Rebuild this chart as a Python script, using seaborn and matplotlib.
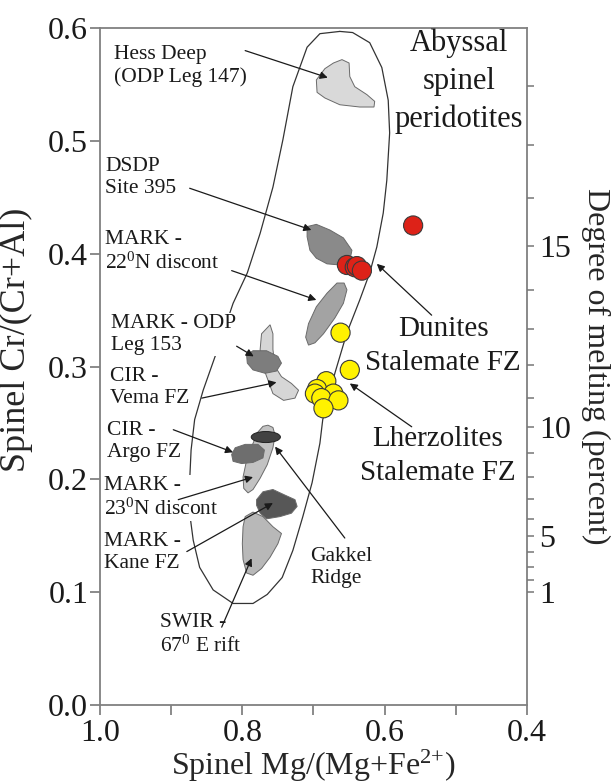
import numpy as np
import pandas as pd
import matplotlib
matplotlib.use('Agg')
import matplotlib.pyplot as plt
from matplotlib.patches import Ellipse
from matplotlib.ticker import FixedLocator, FixedFormatter
import seaborn as sns

# Stalemate FZ samples: spinel Mg# and Cr#
dunite_mg = [0.560, 0.653, 0.642, 0.639, 0.632]
dunite_cr = [0.425, 0.390, 0.388, 0.389, 0.385]
lherz_mg = [0.662, 0.649, 0.682, 0.695, 0.672, 0.698, 0.689, 0.665, 0.686]
lherz_cr = [0.330, 0.297, 0.287, 0.280, 0.276, 0.276, 0.272, 0.270, 0.263]

# outline of the abyssal spinel peridotite array (Mg#, Cr#)
abyssal_mg = [0.663, 0.645, 0.621, 0.604, 0.595, 0.593, 0.597, 0.602, 0.611, 0.621,
              0.635, 0.653, 0.670, 0.687, 0.691, 0.702, 0.715, 0.729, 0.744, 0.765,
              0.785, 0.813, 0.841, 0.860, 0.869, 0.874, 0.874, 0.872, 0.867, 0.855,
              0.836, 0.813, 0.793, 0.775, 0.757, 0.743, 0.729, 0.709, 0.691]
abyssal_cr = [0.597, 0.596, 0.587, 0.565, 0.536, 0.507, 0.465, 0.436, 0.406, 0.383,
              0.359, 0.330, 0.294, 0.253, 0.232, 0.197, 0.167, 0.137, 0.113, 0.098,
              0.090, 0.090, 0.102, 0.122, 0.146, 0.170, 0.199, 0.226, 0.253, 0.279,
              0.313, 0.356, 0.383, 0.418, 0.459, 0.501, 0.548, 0.583, 0.595]

# individual locality fields (Mg#, Cr#)
hess_mg = [0.696, 0.684, 0.672, 0.660, 0.650, 0.649, 0.642, 0.625, 0.614, 0.615, 0.635, 0.663, 0.684, 0.695]
hess_cr = [0.554, 0.564, 0.569, 0.572, 0.569, 0.557, 0.548, 0.541, 0.535, 0.530, 0.530, 0.532, 0.538, 0.543]
dsdp_mg = [0.709, 0.696, 0.677, 0.658, 0.646, 0.649, 0.663, 0.681, 0.696, 0.705, 0.709]
dsdp_cr = [0.424, 0.426, 0.421, 0.414, 0.403, 0.394, 0.390, 0.391, 0.396, 0.403, 0.415]
mark22_mg = [0.657, 0.653, 0.658, 0.670, 0.686, 0.698, 0.707, 0.711, 0.707, 0.696, 0.681, 0.667]
mark22_cr = [0.374, 0.368, 0.356, 0.343, 0.329, 0.321, 0.319, 0.326, 0.338, 0.353, 0.365, 0.374]
vema_mg = [0.761, 0.773, 0.775, 0.771, 0.764, 0.757, 0.742, 0.726, 0.721, 0.731, 0.745, 0.754, 0.757, 0.757]
vema_cr = [0.337, 0.329, 0.315, 0.300, 0.288, 0.276, 0.270, 0.272, 0.279, 0.285, 0.291, 0.300, 0.315, 0.329]
odp153_mg = [0.794, 0.785, 0.766, 0.750, 0.745, 0.752, 0.768, 0.785, 0.793]
odp153_cr = [0.310, 0.314, 0.314, 0.309, 0.303, 0.296, 0.294, 0.297, 0.303]
mark23_mg = [0.764, 0.757, 0.754, 0.757, 0.765, 0.775, 0.785, 0.792, 0.798, 0.799, 0.795, 0.787, 0.778, 0.771]
mark23_cr = [0.248, 0.246, 0.239, 0.228, 0.213, 0.201, 0.191, 0.188, 0.192, 0.202, 0.214, 0.229, 0.242, 0.247]
argo_mg = [0.815, 0.810, 0.796, 0.778, 0.769, 0.771, 0.785, 0.801, 0.813]
argo_cr = [0.222, 0.228, 0.231, 0.231, 0.226, 0.219, 0.215, 0.214, 0.216]
swir_mg = [0.796, 0.785, 0.771, 0.757, 0.745, 0.750, 0.761, 0.773, 0.785, 0.794, 0.799, 0.800, 0.799]
swir_cr = [0.167, 0.171, 0.167, 0.158, 0.152, 0.143, 0.131, 0.121, 0.115, 0.117, 0.129, 0.143, 0.158]
kane_mg = [0.780, 0.771, 0.757, 0.740, 0.726, 0.723, 0.731, 0.747, 0.766, 0.775, 0.780]
kane_cr = [0.182, 0.189, 0.191, 0.186, 0.182, 0.176, 0.170, 0.167, 0.165, 0.170, 0.177]
gakkel_center = (0.767, 0.2375)
gakkel_size = (0.041, 0.0098)

# labels: text, anchor (Mg#, Cr#) at the baseline of the last line, arrow start, arrow tip
labels = ['Hess Deep\n(ODP Leg 147)', 'DSDP\nSite 395', 'MARK -\n22$^0$N discont',
          'MARK - ODP\nLeg 153', 'CIR -\nVema FZ', 'CIR -\nArgo FZ',
          'MARK -\n23$^0$N discont', 'MARK -\nKane FZ', 'SWIR -\n67$^0$ E rift']
label_xy = [(0.980, 0.552), (0.993, 0.4536), (0.993, 0.3863), (0.985, 0.3145), (0.986, 0.2676),
            (0.990, 0.2197), (0.994, 0.1683), (0.994, 0.1214), (0.916, 0.047)]
arrow_from = [(0.796, 0.580), (0.874, 0.458), (0.815, 0.385), (0.808, 0.318), (0.857, 0.272),
              (0.897, 0.244), (0.890, 0.182), (0.878, 0.136), (0.829, 0.069)]
arrow_to = [(0.680, 0.556), (0.703, 0.421), (0.696, 0.359), (0.784, 0.309), (0.752, 0.286),
            (0.813, 0.224), (0.785, 0.202), (0.757, 0.179), (0.787, 0.130)]

# right hand labels
right_labels = ['Dunites\nStalemate FZ', 'Lherzolites\nStalemate FZ', 'Gakkel\nRidge']
right_xy = [(0.518, 0.2968), (0.526, 0.1994), (0.705, 0.1081)]
right_from = [(0.534, 0.3455), (0.562, 0.2466), (0.656, 0.148)]
right_to = [(0.611, 0.391), (0.649, 0.285), (0.754, 0.229)]

# degree of melting (Hellebrand et al. 2001: F = 10 ln(Cr#) + 24)
melt_major = [1, 5, 10, 15]
melt_minor = [2, 3, 4, 6, 7, 8, 9, 11, 12, 13, 14, 16, 17, 18]

sns.set_theme(style='white')
plt.rcParams['font.family'] = ['Liberation Serif', 'DejaVu Serif']
plt.rcParams['mathtext.fontset'] = 'custom'
plt.rcParams['mathtext.rm'] = 'Liberation Serif'
plt.rcParams['mathtext.it'] = 'Liberation Serif:italic'
plt.rcParams['text.color'] = '#1a1a1a'

fig = plt.figure(figsize=(6.15, 7.83), dpi=100)
ax = fig.add_axes([0.1626, 0.0996, 0.6943, 0.8646])

ax.plot(abyssal_mg + abyssal_mg[:1], abyssal_cr + abyssal_cr[:1], color='#333333', lw=0.9, zorder=1)

fields = [(hess_mg, hess_cr, '#d9d9d9'), (dsdp_mg, dsdp_cr, '#8a8a8a'),
          (mark22_mg, mark22_cr, '#a3a3a3'), (vema_mg, vema_cr, '#d6d6d6'),
          (odp153_mg, odp153_cr, '#7d7d7d'), (mark23_mg, mark23_cr, '#c2c2c2'),
          (argo_mg, argo_cr, '#6e6e6e'), (swir_mg, swir_cr, '#b8b8b8'),
          (kane_mg, kane_cr, '#575757')]
for fx, fy, c in fields:
    ax.fill(fx, fy, facecolor=c, edgecolor='#6a6a6a', lw=0.7, zorder=2)
ax.add_patch(Ellipse(gakkel_center, gakkel_size[0], gakkel_size[1], facecolor='#424242',
                     edgecolor='#222222', lw=0.7, zorder=2))

pts = pd.DataFrame({'mg': dunite_mg + lherz_mg, 'cr': dunite_cr + lherz_cr,
                    'type': ['Dunite'] * len(dunite_mg) + ['Lherzolite'] * len(lherz_mg)})
sns.scatterplot(data=pts, x='mg', y='cr', hue='type', palette={'Dunite': '#dd2218', 'Lherzolite': '#fff200'},
                s=190, edgecolor='#3a3a3a', linewidth=0.8, legend=False, ax=ax, zorder=3)

aprops = dict(arrowstyle='-|>', color='#1a1a1a', lw=0.9, mutation_scale=11, shrinkA=0, shrinkB=0)
for txt, xy, a0, a1 in zip(labels, label_xy, arrow_from, arrow_to):
    ax.text(xy[0], xy[1], txt, fontsize=15.5, ha='left', va='baseline', linespacing=1.25, zorder=4,
            bbox=dict(facecolor='white', edgecolor='none', pad=0.5))
    ax.annotate('', xy=a1, xytext=a0, arrowprops=aprops, zorder=5)

sizes = [21, 21, 15.5]
for txt, xy, a0, a1, fs in zip(right_labels, right_xy, right_from, right_to, sizes):
    ax.text(xy[0], xy[1], txt, fontsize=fs, ha='center' if fs > 16 else 'left', va='baseline',
            linespacing=1.4 if fs > 16 else 1.25, zorder=4)
    ax.annotate('', xy=a1, xytext=a0, arrowprops=aprops, zorder=5)

ax.text(0.4955, 0.5121, 'Abyssal\nspinel\nperidotites', fontsize=22, ha='center', va='baseline',
        linespacing=1.4, zorder=4)

ax.set_xlim(1.0, 0.4)
ax.set_ylim(0.0, 0.6)
ax.xaxis.set_major_locator(FixedLocator([1.0, 0.9, 0.8, 0.7, 0.6, 0.5, 0.4]))
ax.xaxis.set_major_formatter(FixedFormatter(['1.0', '', '0.8', '', '0.6', '', '0.4']))
ax.set_yticks([0.0, 0.1, 0.2, 0.3, 0.4, 0.5, 0.6])
ax.set_yticklabels(['0.0', '0.1', '0.2', '0.3', '0.4', '0.5', '0.6'])
ax.tick_params(axis='both', which='major', labelsize=23, direction='out', length=7, width=1.2,
               color='#777777', labelcolor='#1a1a1a', left=True, bottom=True)
ax.tick_params(axis='y', pad=1.5)
ax.tick_params(axis='x', pad=3)
for sp in ax.spines.values():
    sp.set_color('#808080')
    sp.set_linewidth(1.3)
ax.set_xlabel('Spinel Mg/(Mg+Fe$^{2{+}}$)', fontsize=23, labelpad=0)
ax.set_ylabel('Spinel Cr/(Cr+Al)', fontsize=26)
ax.yaxis.set_label_coords(-0.157, 0.54)

ax2 = ax.twinx()
ax2.set_ylim(ax.get_ylim())
ax2.set_yticks(np.exp((np.array(melt_major) - 24) / 10.0))
ax2.set_yticklabels([str(m) for m in melt_major])
ax2.set_yticks(np.exp((np.array(melt_minor) - 24) / 10.0), minor=True)
ax2.tick_params(axis='y', which='both', direction='out', length=5, width=1.1, color='#777777',
                labelsize=23, labelcolor='#1a1a1a', pad=4, right=True)
for sp in ax2.spines.values():
    sp.set_visible(False)
ax2.set_ylabel('Degree of melting (percent)', fontsize=23, rotation=270, labelpad=28)

fig.savefig('out.png', dpi=100)
